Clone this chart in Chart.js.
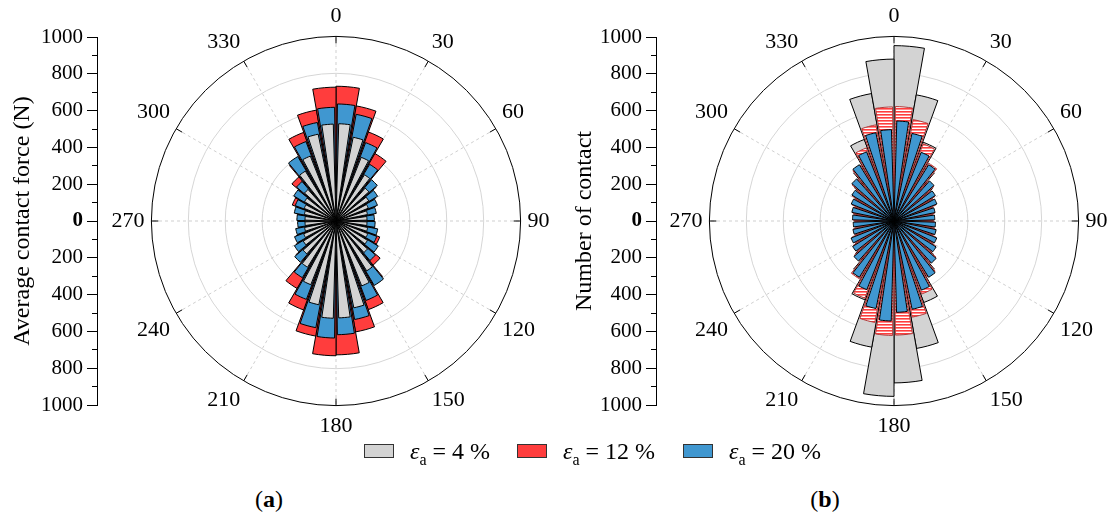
<!DOCTYPE html>
<html>
<head>
<meta charset="utf-8">
<script src="https://cdn.jsdelivr.net/npm/chart.js@4.4.0/dist/chart.umd.min.js"></script>
<style>
  html, body { margin: 0; padding: 0; background: #fff; width: 1111px; height: 519px; overflow: hidden; }
  body { position: relative; font-family: "Liberation Serif", "DejaVu Serif", serif; color: #000; }
  canvas { position: absolute; }
  #axisA { left: 0; top: 0; }
  #roseA { left: 66px; top: 3px; }
  #axisB { left: 559px; top: 0; }
  #roseB { left: 624px; top: 3px; }
  .item { position: absolute; top: 436px; height: 30px; display: flex; align-items: center; font-size: 24px; white-space: nowrap; }
  .sw { width: 28px; height: 12px; border: 1px solid #333; margin-right: 16px; }
  .item sub { font-size: 16px; vertical-align: -6px; line-height: 0; }
  .cap { position: absolute; top: 486px; font-size: 24px; width: 60px; text-align: center; }
</style>
</head>
<body>
<canvas id="axisA" width="98" height="440"></canvas>
<canvas id="roseA" width="540" height="436"></canvas>
<canvas id="axisB" width="98" height="440"></canvas>
<canvas id="roseB" width="540" height="436"></canvas>

<div class="item" style="left:364px"><span class="sw" style="background:#d3d3d3"></span><span><i>ε</i><sub>a</sub> = 4 %</span></div>
<div class="item" style="left:517px"><span class="sw" style="background:#ff3d3d"></span><span><i>ε</i><sub>a</sub> = 12 %</span></div>
<div class="item" style="left:683px"><span class="sw" style="background:#4097d0"></span><span><i>ε</i><sub>a</sub> = 20 %</span></div>
<div class="cap" style="left:239px">(<b>a</b>)</div>
<div class="cap" style="left:795px">(<b>b</b>)</div>

<script>
// 36 bins of 10 degrees, clockwise from the top (0-10, 10-20, ...)
const angleLabels = ["0", "30", "60", "90", "120", "150", "180", "210", "240", "270", "300", "330"];
const radialMax = 1000;
const binSize = 10;

// (a) average contact force (N)
const forceStrain4 = [527, 463, 371, 294, 238, 208, 188, 174, 168, 168, 175, 185, 200, 228, 317, 378, 480, 525,
                      527, 463, 371, 294, 238, 208, 188, 174, 168, 168, 175, 185, 200, 228, 317, 378, 480, 525];
const forceStrain12 = [730, 633, 513, 422, 282, 248, 228, 208, 196, 200, 215, 252, 255, 312, 392, 511, 610, 725,
                       730, 633, 513, 422, 282, 248, 228, 208, 196, 200, 215, 252, 255, 312, 392, 511, 610, 725];
const forceStrain20 = [634, 588, 454, 357, 295, 262, 240, 222, 208, 212, 230, 236, 266, 282, 406, 460, 543, 616,
                       634, 588, 454, 357, 295, 262, 240, 222, 208, 212, 230, 236, 266, 282, 406, 460, 543, 616];

// (b) number of contacts
const countStrain4 = [950, 694, 455, 340, 272, 240, 222, 208, 200, 205, 210, 222, 245, 280, 340, 470, 701, 877,
                      950, 694, 455, 340, 272, 240, 222, 208, 200, 205, 210, 222, 245, 280, 340, 470, 701, 877];
const countStrain12 = [620, 559, 447, 365, 284, 256, 240, 222, 214, 218, 226, 240, 262, 300, 352, 423, 530, 618,
                       620, 559, 447, 365, 284, 256, 240, 222, 214, 218, 226, 240, 262, 300, 352, 423, 530, 618];
const countStrain20 = [542, 484, 400, 358, 290, 263, 250, 227, 221, 225, 233, 249, 268, 305, 358, 403, 488, 495,
                       542, 484, 400, 358, 290, 263, 250, 227, 221, 225, 233, 249, 268, 305, 358, 403, 488, 495];

const GRAY = "#d3d3d3", RED = "#ff3d3d", BLUE = "#4097d0";

Chart.defaults.font.family = '"Liberation Serif", "DejaVu Serif", serif';
Chart.defaults.color = "#000";

// red with white horizontal lines, used for the 12 % series of (b)
function hatch() {
  const c = document.createElement("canvas");
  c.width = 4; c.height = 3;
  const g = c.getContext("2d");
  g.fillStyle = "#fff"; g.fillRect(0, 0, 4, 3);
  g.fillStyle = RED; g.fillRect(0, 0, 4, 1);
  g.fillStyle = "#ff8a8a"; g.fillRect(0, 1, 4, 1);
  return g.createPattern(c, "repeat");
}

// one series of the rose: narrower bars are centred in their bin with empty spacers
function layer(values, fill, width, order, border) {
  const gap = (binSize - width) / 2;
  const data = [], angles = [];
  values.forEach(v => {
    if (gap > 0) { data.push(0, v, 0); angles.push(gap, width, gap); }
    else { data.push(v); angles.push(width); }
  });
  return {
    data: data,
    order: order,
    angle: c => angles[c.dataIndex],
    backgroundColor: fill,
    borderColor: border || "#000",
    borderWidth: c => (c.raw ? 1 : 0)
  };
}

const angleTicks = {
  id: "angleTicks",
  afterDatasetsDraw(chart) {
    const s = chart.scales.r, ctx = chart.ctx;
    ctx.save();
    ctx.strokeStyle = "#000";
    ctx.lineWidth = 1;
    for (let i = 0; i < angleLabels.length; i++) {
      const a = s.getPointPosition(i, s.drawingArea);
      const b = s.getPointPosition(i, s.drawingArea - 7);
      ctx.beginPath(); ctx.moveTo(a.x, a.y); ctx.lineTo(b.x, b.y); ctx.stroke();
    }
    ctx.restore();
  }
};

function rose(id, datasets) {
  return new Chart(document.getElementById(id), {
    type: "polarArea",
    data: { labels: angleLabels, datasets: datasets },
    options: {
      responsive: false,
      animation: false,
      events: [],
      layout: { padding: 0 },
      plugins: { legend: { display: false }, tooltip: { enabled: false } },
      scales: {
        r: {
          min: 0,
          max: radialMax,
          startAngle: 0,
          ticks: { display: false, stepSize: 200 },
          grid: { circular: true, lineWidth: 1, color: c => (c.tick && c.tick.value === radialMax ? "#000" : "#d6d6d6") },
          angleLines: { display: true, color: "#cfcfcf", lineWidth: 1, borderDash: [3, 3] },
          pointLabels: { display: true, centerPointLabels: false, padding: 7, color: "#000", font: { size: 22 } }
        }
      }
    },
    plugins: [angleTicks]
  });
}

function axis(id, title, titlePad) {
  return new Chart(document.getElementById(id), {
    type: "scatter",
    data: { datasets: [] },
    options: {
      responsive: false,
      animation: false,
      events: [],
      layout: { padding: { top: 37, bottom: 35, left: 0, right: 0 } },
      plugins: { legend: { display: false }, tooltip: { enabled: false } },
      scales: {
        x: { display: false, min: 0, max: 1 },
        y: {
          min: -radialMax,
          max: radialMax,
          afterFit: s => { s.width = 97; },
          border: { display: true, color: "#000", width: 1 },
          grid: {
            drawOnChartArea: false,
            tickLength: 10,
            tickColor: "#000",
            tickWidth: 1,
            // minor ticks: only the half next to the axis line
            tickBorderDash: c => (c.tick && c.tick.value % 200 === 0 ? [] : [0, 5, 5, 100])
          },
          ticks: {
            stepSize: 100,
            autoSkip: false,
            padding: 4,
            color: "#000",
            font: c => ({ size: 21, weight: c.tick && c.tick.value === 0 ? "bold" : "normal" }),
            callback: v => (v % 200 === 0 ? String(Math.abs(v)) : "")
          },
          title: { display: true, text: title, color: "#000", font: { size: 24 }, padding: { top: titlePad, bottom: 0 } }
        }
      }
    }
  });
}

axis("axisA", "Average contact force (N)", 8);
axis("axisB", "Number of contact", 11);

rose("roseA", [
  layer(forceStrain4, GRAY, 6.8, 0),
  layer(forceStrain12, RED, 10, 2),
  layer(forceStrain20, BLUE, 8.6, 1)
]);

rose("roseB", [
  layer(countStrain4, GRAY, 10, 2),
  layer(countStrain12, hatch(), 8.6, 1, "#b03a3a"),
  layer(countStrain20, BLUE, 6.8, 0)
]);
</script>
</body>
</html>
